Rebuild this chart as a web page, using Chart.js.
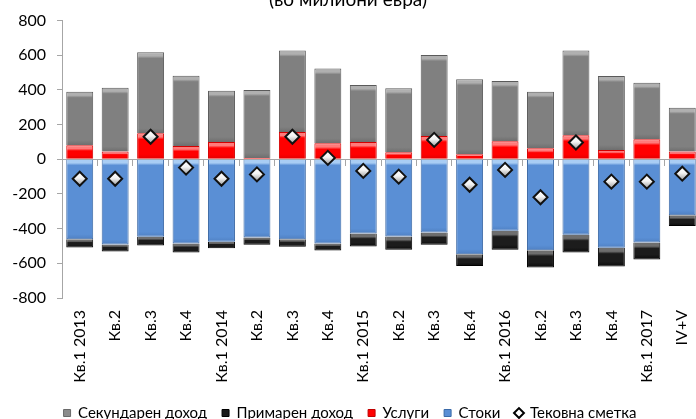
<!DOCTYPE html>
<html>
<head>
<meta charset="utf-8">
<script src="https://cdn.jsdelivr.net/npm/chart.js@4"></script>
<style>
html,body{margin:0;padding:0;background:#fff;overflow:hidden;}
#wrap{position:relative;width:700px;height:419px;overflow:hidden;}
#c{position:absolute;left:0;top:0;}
#title{position:absolute;left:0;top:-11px;width:696px;text-align:center;font-family:Lato,sans-serif;font-size:19px;line-height:19px;color:#000;}
</style>
</head>
<body>
<div id="wrap">
<canvas id="c" width="700" height="419"></canvas>
<div id="title">(во милиони евра)</div>
</div>
<script>
// ---- data (million EUR) ----
const categories = ['Кв.1 2013','Кв.2','Кв.3','Кв.4','Кв.1 2014','Кв.2','Кв.3','Кв.4','Кв.1 2015','Кв.2','Кв.3','Кв.4','Кв.1 2016','Кв.2','Кв.3','Кв.4','Кв.1 2017','IV+V'];
const services        = [81, 45, 150, 77, 100, 8, 158, 92, 100, 40, 135, 29, 104, 64, 139, 54, 116, 45];
const secondaryIncome = [309, 368, 467, 405, 295, 391, 469, 432, 328, 370, 466, 433, 347, 326, 488, 426, 326, 252];
const goods           = [-461, -491, -447, -486, -476, -451, -461, -486, -428, -445, -422, -547, -412, -524, -435, -510, -480, -322];
const primaryIncome   = [-48, -41, -50, -52, -37, -42, -44, -40, -75, -77, -71, -69, -110, -100, -103, -108, -98, -63];
const currentAccount  = [-112, -112, 130, -48, -112, -87, 130, 8, -67, -100, 112, -147, -61, -219, 97, -129, -129, -83];
const yTicks = {min: -800, max: 800, step: 200};

// ---- styling ----
const FONT = 'Lato';
function stackBounds(ds, i) {
  switch (ds) {
    case 0: return [services[i], 0];
    case 1: return [0, goods[i]];
    case 2: return [services[i] + secondaryIncome[i], services[i]];
    case 3: return [goods[i], goods[i] + primaryIncome[i]];
  }
  return [0, 0];
}
function makeFill(light, base, dark) {
  return function (c) {
    if (c.type !== 'data') return base;
    const ch = c.chart, y = ch.scales.y;
    if (!y) return base;
    const b = stackBounds(c.datasetIndex, c.dataIndex);
    const yt = y.getPixelForValue(b[0]), yb = y.getPixelForValue(b[1]);
    const h = yb - yt;
    if (!(h > 2) || !isFinite(h)) return base;
    const g = ch.ctx.createLinearGradient(0, yt, 0, yb);
    const f = Math.min(6 / h, 0.4);
    const e = Math.max(f, 1 - Math.min(5 / h, 0.3));
    g.addColorStop(0, light);
    g.addColorStop(f * 0.6, light);
    g.addColorStop(f, base);
    g.addColorStop(e, base);
    g.addColorStop(1, dark);
    return g;
  };
}
function diamondFill(c) {
  if (c.type !== 'data') return '#f2f2f2';
  const ch = c.chart, y = ch.scales.y;
  if (!y) return '#f2f2f2';
  const py = y.getPixelForValue(currentAccount[c.dataIndex]);
  if (!isFinite(py)) return '#f2f2f2';
  const g = ch.ctx.createLinearGradient(0, py - 7, 0, py + 7);
  g.addColorStop(0, '#ffffff');
  g.addColorStop(0.45, '#f4f4f4');
  g.addColorStop(1, '#9a9a9a');
  return g;
}
const legendFill   = ['#ff0000', '#5a8fd5', '#8c8c8c', '#1a1a1a', '#ffffff'];
const legendStroke = ['#c00000', '#3a6aa8', '#6a6a6a', '#000000', '#000000'];

const datasets = [
  {label: 'Услуги', data: services, backgroundColor: makeFill('#ff7a7a', '#ff0000', '#e00000'), borderColor: '#d40000', borderWidth: 1},
  {label: 'Стоки', data: goods, backgroundColor: makeFill('#a9cdf4', '#5a8fd5', '#4f80c2'), borderColor: '#3d6aa6', borderWidth: 1},
  {label: 'Секундарен доход', data: secondaryIncome, backgroundColor: makeFill('#b0b0b0', '#808080', '#6e6e6e'), borderColor: '#5a5a5a', borderWidth: 1},
  {label: 'Примарен доход', data: primaryIncome, backgroundColor: makeFill('#6e6e6e', '#1c1c1c', '#0a0a0a'), borderColor: '#000000', borderWidth: 1},
  {type: 'line', label: 'Тековна сметка', data: currentAccount, showLine: false, order: -1,
   pointStyle: 'rectRot', pointRadius: 7, pointHoverRadius: 7, pointBorderWidth: 2,
   pointBorderColor: '#111111', pointBackgroundColor: diamondFill}
];

new Chart(document.getElementById('c'), {
  type: 'bar',
  data: {labels: categories, datasets: datasets},
  options: {
    responsive: false,
    animation: false,
    events: [],
    datasets: {bar: {barPercentage: 0.76, categoryPercentage: 1}},
    layout: {autoPadding: false, padding: {top: 19, right: 0, bottom: -11.5, left: 0}},
    scales: {
      x: {
        stacked: true,
        grid: {display: false, drawTicks: true, tickLength: 12},
        border: {display: false},
        ticks: {autoSkip: false, minRotation: 90, maxRotation: 90, padding: 0, color: '#000', font: {family: FONT, size: 16}},
        afterFit: function (s) { s.height = 92.5; s.paddingLeft = 0; s.paddingRight = 0; }
      },
      x2: {
        type: 'category', axis: 'x', position: {y: 0}, offset: true,
        grid: {offset: true, drawOnChartArea: false, drawTicks: true, tickLength: 6, color: '#a6a6a6'},
        border: {display: true, color: '#a6a6a6', width: 1},
        ticks: {display: false},
        afterFit: function (s) { s.paddingLeft = 0; s.paddingRight = 0; }
      },
      y: {
        stacked: true, min: yTicks.min, max: yTicks.max,
        ticks: {stepSize: yTicks.step, padding: 11, color: '#000', font: {family: FONT, size: 16}},
        grid: {drawOnChartArea: false, drawTicks: true, tickLength: 5, color: '#a6a6a6'},
        border: {display: true, color: '#a6a6a6'},
        afterFit: function (s) { s.width = 62; }
      }
    },
    plugins: {
      tooltip: {enabled: false},
      legend: {
        position: 'bottom',
        labels: {
          font: {family: FONT, size: 15}, color: '#000',
          boxWidth: 7, boxHeight: 7, padding: 15, usePointStyle: true,
          generateLabels: function (chart) {
            const order = [2, 3, 0, 1, 4];
            return order.map(function (i) {
              return {
                text: chart.data.datasets[i].label,
                fillStyle: legendFill[i], strokeStyle: legendStroke[i],
                lineWidth: i === 4 ? 2 : 1,
                pointStyle: i === 4 ? 'rectRot' : 'rect',
                datasetIndex: i, hidden: false
              };
            });
          }
        }
      }
    }
  }
});
</script>
</body>
</html>
